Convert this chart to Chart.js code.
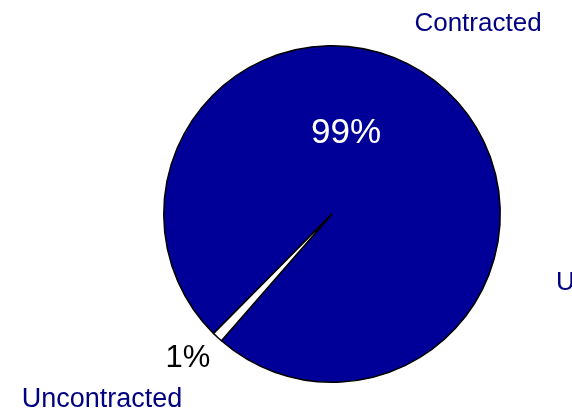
<!DOCTYPE html>
<html>
<head>
<meta charset="utf-8">
<script src="https://cdn.jsdelivr.net/npm/chart.js@4"></script>
<style>
  html, body { margin: 0; padding: 0; background: #fff; overflow: hidden; }
  #pie { display: block; }
</style>
</head>
<body>
<canvas id="pie" width="572" height="415"></canvas>
<script>
const categories = ["Contracted", "Uncontracted"];
const shares = [99, 1];
const pctLabels = ["99%", "1%"];

const NAVY = "#000080";

// names and percentages are drawn by hand, where the old sheet put them
const pieText = {
    id: 'pieText',
    afterDatasetsDraw(chart) {
        const c = chart.ctx;
        c.save();
        c.textAlign = 'center';
        c.textBaseline = 'middle';

        c.font = '26px "Liberation Sans", Arial, sans-serif';
        c.fillStyle = NAVY;
        c.fillText(categories[0], 478, 24);
        c.font = '27px "Liberation Sans", Arial, sans-serif';
        c.fillText(categories[1], 102, 400);
        // second legend entry, runs off the right edge
        c.textAlign = 'left';
        c.font = '26px "Liberation Sans", Arial, sans-serif';
        c.fillText(categories[1], 556, 283);

        c.textAlign = 'center';
        c.font = '35px "Liberation Sans", Arial, sans-serif';
        c.fillStyle = '#ffffff';
        c.fillText(pctLabels[0], 346, 133);
        c.font = '31px "Liberation Sans", Arial, sans-serif';
        c.fillStyle = '#000000';
        c.fillText(pctLabels[1], 188, 358);
        c.restore();
    }
};

const ctx = document.getElementById('pie').getContext('2d');
const data = {
    labels: categories,
    datasets: [{
        data: shares,
        backgroundColor: ['#000099', '#ffffff'],
        borderColor: '#000000',
        borderWidth: 1.5,
        borderAlign: 'center'
    }]
};
const options = {
    responsive: false,
    animation: false,
    rotation: -135.3,
    layout: {
        padding: { left: 163, right: 71, top: 45, bottom: 32 }
    },
    plugins: {
        legend: { display: false },
        tooltip: { enabled: false }
    }
};

let graph = new Chart(ctx, {
    type: 'pie',
    data: data,
    options: options,
    plugins: [pieText]
});
</script>
</body>
</html>
